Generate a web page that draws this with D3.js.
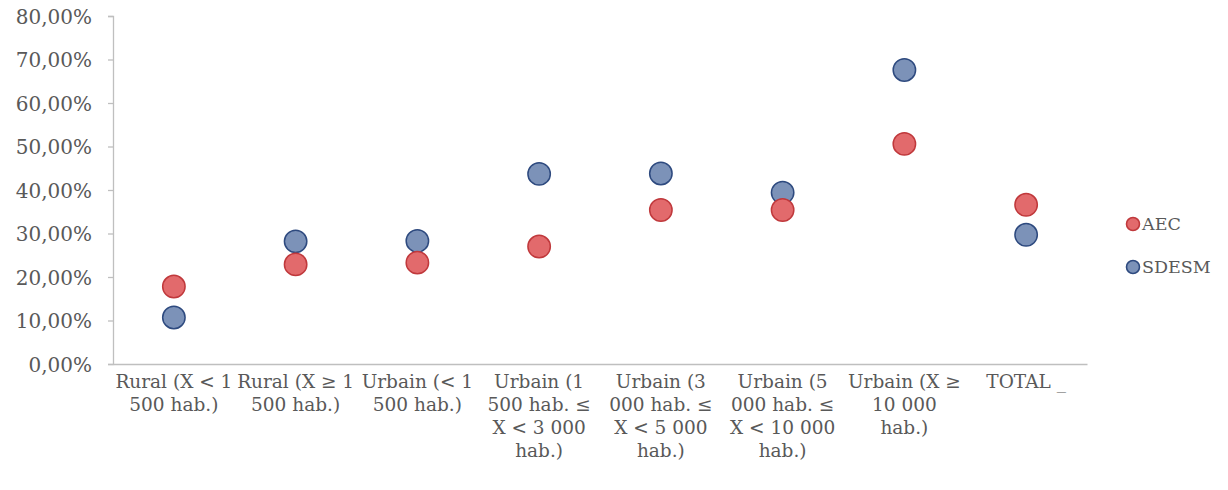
<!DOCTYPE html>
<html>
<head>
<meta charset="utf-8">
<script src="https://cdn.jsdelivr.net/npm/d3@7"></script>
<style>
  html, body { margin: 0; padding: 0; background: #ffffff; }
  svg { display: block; }
  text { font-family: "DejaVu Serif", "Liberation Serif", serif; fill: #595959; }
</style>
</head>
<body>
<svg id="chart" width="1228" height="490"></svg>
<script>
// Categories (multi-line labels) and the two series, shares in %
const categories = [
  ["Rural (X < 1", "500 hab.)"],
  ["Rural (X ≥ 1", "500 hab.)"],
  ["Urbain (< 1", "500 hab.)"],
  ["Urbain (1", "500 hab. ≤", "X < 3 000", "hab.)"],
  ["Urbain (3", "000 hab. ≤", "X < 5 000", "hab.)"],
  ["Urbain (5", "000 hab. ≤", "X < 10 000", "hab.)"],
  ["Urbain (X ≥", "10 000", "hab.)"],
  ["TOTAL _"]
];
const aec   = [17.8, 22.9, 23.3, 27.0, 35.4, 35.4, 50.6, 36.6];
const sdesm = [10.7, 28.2, 28.3, 43.7, 43.8, 39.4, 67.6, 29.7];
const yTicks = [0, 10, 20, 30, 40, 50, 60, 70, 80];

const series = [
  { name: "AEC",   values: aec,   fill: "#e26a6c", stroke: "#c0393c" },
  { name: "SDESM", values: sdesm, fill: "#7c92b8", stroke: "#2e4a7f" }
];

const svg = d3.select("#chart");
const plotLeft = 113, plotRight = 1087, plotTop = 16, plotBottom = 364;

const x = d3.scaleBand()
  .domain(d3.range(categories.length))
  .range([plotLeft, plotRight]);

const y = d3.scaleLinear()
  .domain([0, 80])
  .range([plotBottom, plotTop]);

const fmt = v => d3.format(".2f")(v).replace(".", ",") + "%";

// Value axis
const yAxis = svg.append("g")
  .attr("transform", `translate(${plotLeft},0)`)
  .call(d3.axisLeft(y).tickValues(yTicks).tickSize(5).tickPadding(16).tickFormat(fmt));
yAxis.attr("font-size", null).attr("font-family", null);
yAxis.select(".domain").attr("stroke", "#bfbfbf").attr("stroke-width", 1.3);
yAxis.selectAll(".tick line").attr("stroke", "#bfbfbf").attr("stroke-width", 1.3);
yAxis.selectAll(".tick text")
  .style("font-size", "20px")
  .attr("dy", "0.35em")
  .attr("fill", "#5f5f5f");

// Category axis
const xAxis = svg.append("g")
  .attr("transform", `translate(0,${plotBottom})`)
  .call(d3.axisBottom(x).tickSize(0).tickFormat(""));
xAxis.select(".domain").attr("stroke", "#bfbfbf").attr("stroke-width", 1.3);

const labels = svg.append("g");
categories.forEach((lines, i) => {
  const cx = x(i) + x.bandwidth() / 2;
  const t = labels.append("text")
    .attr("x", cx)
    .attr("y", 388)
    .attr("text-anchor", "middle")
    .style("font-size", "18.5px")
    .attr("fill", "#5f5f5f");
  lines.forEach((ln, j) => {
    t.append("tspan")
      .attr("x", cx)
      .attr("dy", j === 0 ? 0 : 23)
      .text(ln);
  });
});

// Points: SDESM drawn first, AEC on top
[series[1], series[0]].forEach(s => {
  svg.append("g")
    .selectAll("circle")
    .data(s.values)
    .join("circle")
    .attr("cx", (d, i) => x(i) + x.bandwidth() / 2)
    .attr("cy", d => y(d))
    .attr("r", 11.2)
    .attr("fill", s.fill)
    .attr("stroke", s.stroke)
    .attr("stroke-width", 1.5);
});

// Legend
const legend = svg.append("g");
series.forEach((s, i) => {
  const ly = 224 + i * 43;
  legend.append("circle")
    .attr("cx", 1133).attr("cy", ly).attr("r", 6.5)
    .attr("fill", s.fill).attr("stroke", s.stroke).attr("stroke-width", 1.6);
  legend.append("text")
    .attr("x", 1142).attr("y", ly + 6)
    .style("font-size", "17.5px")
    .attr("fill", "#5f5f5f")
    .text(s.name);
});
</script>
</body>
</html>
